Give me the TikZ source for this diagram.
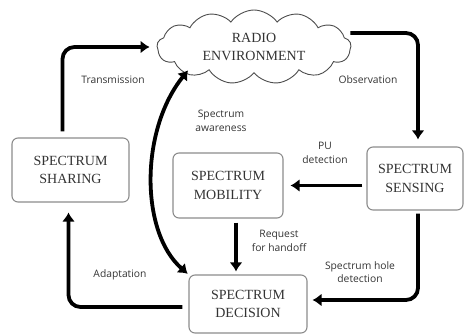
\documentclass[tikz,border=0pt]{standalone}
\usepackage{fontspec}
\setmainfont{Liberation Serif}
\newfontfamily\labelfont{Open Sans}
\usetikzlibrary{positioning}
\usetikzlibrary{shapes.symbols}
\usetikzlibrary{arrows.meta}

\tikzset{
  block/.style={draw=black!45, line width=1.1pt, rounded corners=6pt, align=center,
    text=black!80, font=\fontsize{14}{18.5}\selectfont, inner sep=2pt},
  flow/.style={line width=3.8pt, rounded corners=12pt,
    -{Latex[length=9pt,width=13pt]}},
  lbl/.style={align=center, text=black!80, font=\labelfont\fontsize{10.3}{13.5}\selectfont}
}

\begin{document}
\begin{tikzpicture}[x=1pt,y=-1pt]
\useasboundingbox (0,0) rectangle (465,334);
% nodes
\node[cloud, draw=black!70, line width=0.9pt, cloud puffs=13, cloud puff arc=110,
  cloud ignores aspect, inner sep=0pt, minimum width=194pt, minimum height=74pt,
  align=center, text=black!80, font=\fontsize{14}{18.5}\selectfont]
  (cloud) at (254,47) {RADIO\\ENVIRONMENT};
\node[block, minimum width=117pt, minimum height=64pt] (share) at (70.5,170) {SPECTRUM\\SHARING};
\node[block, minimum width=110pt, minimum height=65pt] (mob) at (228,185.5) {SPECTRUM\\MOBILITY};
\node[block, minimum width=96pt, minimum height=63pt] (sense) at (415,178.5) {SPECTRUM\\SENSING};
\node[block, minimum width=118pt, minimum height=58pt] (dec) at (248,304) {SPECTRUM\\DECISION};
% connectors
\draw[flow, shorten <=6pt, shorten >=7pt] ([xshift=-8pt]share.north) |- (cloud.west);
\draw[flow, shorten >=7pt] ([xshift=-1pt,yshift=14pt]cloud.east) -| ([xshift=3pt]sense.north);
\draw[flow, shorten <=4pt, shorten >=7pt] (sense.west |- mob.east) -- (mob.east);
\draw[flow, shorten <=4pt, shorten >=3pt] ([xshift=8pt]mob.south) -- ([xshift=8pt]mob.south |- dec.north);
\draw[flow, shorten <=3pt, shorten >=5pt] ([xshift=3pt]sense.south) |- ([yshift=4pt]dec.east);
\draw[flow, shorten <=6pt, shorten >=10pt] ([yshift=-3pt]dec.west) -| ([xshift=-2pt]share.south);
\draw[line width=3.8pt, {Latex[length=9pt,width=13pt]}-{Latex[length=9pt,width=13pt]}, shorten >=1pt]
  ([xshift=-66pt,yshift=3pt]cloud.south) .. controls (140,130) and (140,232) .. (dec.north west);
% labels
\node[lbl] (ltrans) at (113,80) {Transmission};
\node[lbl] (lobs) at (368,80) {Observation};
\node[lbl] (laware) at (221,121) {Spectrum\\awareness};
\node[lbl] (lpu) at (325,153) {PU\\detection};
\node[lbl] (lreq) at (279,241) {Request\\for handoff};
\node[lbl] (lhole) at (360,272) {Spectrum hole\\detection};
\node[lbl] (ladapt) at (120,275) {Adaptation};
\end{tikzpicture}
\end{document}
